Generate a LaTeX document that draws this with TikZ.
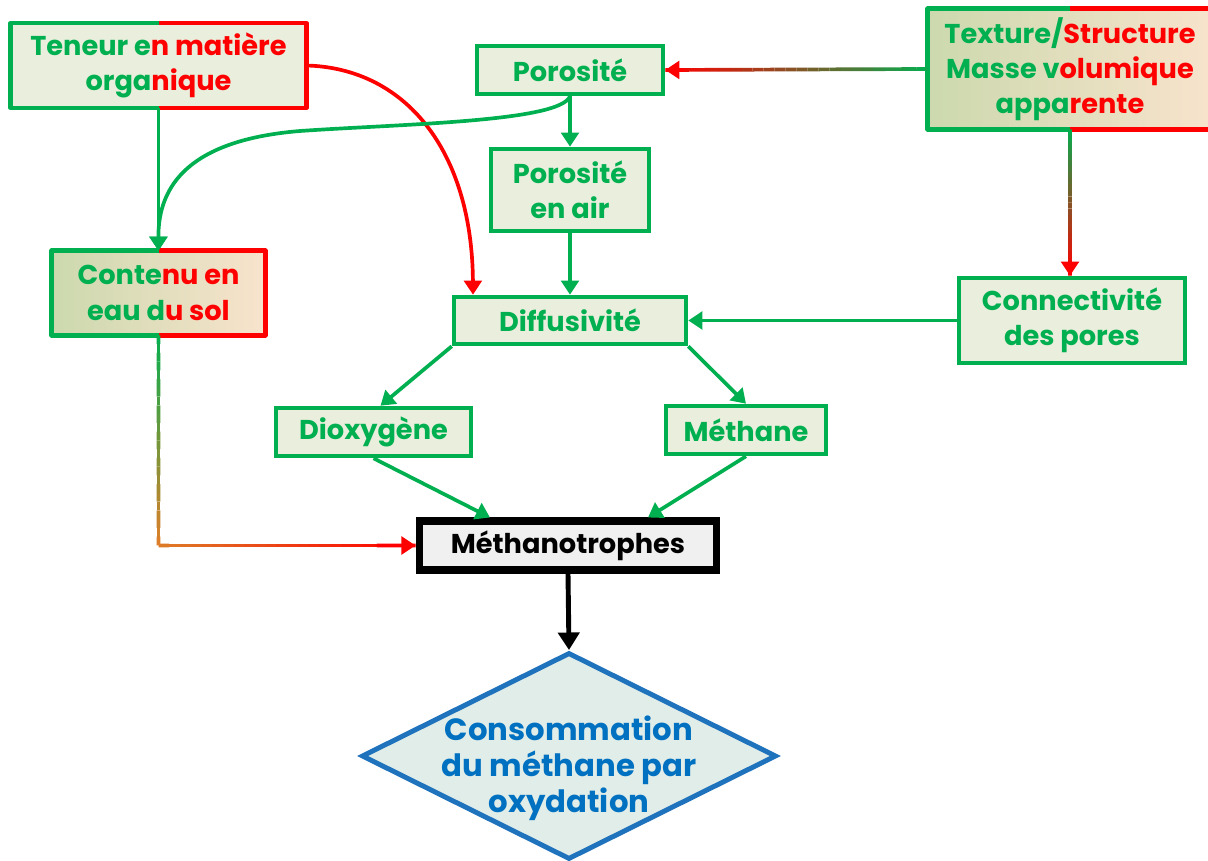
\documentclass[tikz,border=0pt]{standalone}
\usepackage{fontspec}
\setmainfont{Poppins}
\usetikzlibrary{shapes.geometric, arrows.meta, calc, shadows}
\definecolor{grn}{HTML}{00B050}
\definecolor{rd}{HTML}{FF0000}
\definecolor{org}{HTML}{DC7F28}
\definecolor{blu}{HTML}{1F73BD}
\definecolor{txtblu}{HTML}{0070C0}
\definecolor{boxfill}{HTML}{EAEEDC}
\definecolor{lgrn}{HTML}{CCD9AE}
\definecolor{ltan}{HTML}{D3C8B0}
\definecolor{lpeach}{HTML}{F8E3CC}
\definecolor{diafill}{HTML}{E1EDE9}
\tikzset{
  boxtxt/.style={align=center, font=\bfseries\fontsize{15.5}{20}\selectfont, inner sep=0pt},
  box/.style={boxtxt, draw=grn, line width=2.6pt, fill=boxfill, text=grn},
  halfbox/.style={boxtxt, left color=lgrn, middle color=ltan, right color=lpeach},
  halfline/.style={line width=2.6pt, line join=round},
  arr/.style={line width=2.1pt, -{Triangle[length=8pt, width=10pt]}},
  seg/.style={line width=2.1pt}
}

\begin{document}
\begin{tikzpicture}[x=0.02cm, y=-0.02cm]
\useasboundingbox (0,0) rectangle (1208,861);

\node[boxtxt, fill=boxfill, minimum width=5.9cm, minimum height=1.68cm] (teneur) at (158.5,65.5)
  {\textcolor{grn}{Teneur e}\textcolor{rd}{n matière}\\\textcolor{grn}{orga}\textcolor{rd}{nique}};
\node[box, minimum width=3.72cm, minimum height=0.96cm] (poro) at (570,70) {Porosité};
\node[halfbox, minimum width=5.68cm, minimum height=2.4cm] (texture) at (1070,69)
  {\textcolor{grn}{Texture/}\textcolor{rd}{Structure}\\\textcolor{grn}{Masse v}\textcolor{rd}{olumique}\\\textcolor{grn}{appa}\textcolor{rd}{rente}};
\node[box, minimum width=3.16cm, minimum height=1.64cm] (poroair) at (570,190) {Porosité\\en air};
\node[halfbox, minimum width=4.26cm, minimum height=1.68cm] (contenu) at (158.5,293)
  {\textcolor{grn}{Conte}\textcolor{rd}{nu en}\\\textcolor{grn}{eau d}\textcolor{rd}{u sol}};
\node[box, minimum width=4.64cm, minimum height=0.94cm] (diffu) at (570,320.5) {Diffusivité};
\node[box, minimum width=4.52cm, minimum height=1.7cm] (connect) at (1072,320.5) {Connectivité\\des pores};
\node[box, minimum width=3.9cm, minimum height=0.96cm] (dioxy) at (373.5,432) {Dioxygène};
\node[box, minimum width=3.2cm, minimum height=0.96cm] (methane) at (746,430) {Méthane};
\node[boxtxt, draw=black, line width=4pt, fill=black!6, minimum width=5.96cm, minimum height=0.98cm,
  drop shadow={shadow xshift=2pt, shadow yshift=-2pt, opacity=0.35}] (metho) at (568,545.5) {Méthanotrophes};
\node[diamond, draw=blu, line width=2.8pt, fill=diafill, minimum width=8.3cm, minimum height=4.14cm, inner sep=0pt] (conso) at (569,756) {};
\node[align=center, text=txtblu, font=\bfseries\fontsize{17.5}{20.5}\selectfont] (consotxt) at (569,768)
  {Consommation\\du méthane par\\oxydation};

% bicolour borders
\draw[halfline, grn] (teneur.north) -- (teneur.north west) -- (teneur.south west) -- (teneur.south);
\draw[halfline, rd] (teneur.north) -- (teneur.north east) -- (teneur.south east) -- (teneur.south);
\draw[halfline, grn] (texture.north) -- (texture.north west) -- (texture.south west) -- (texture.south);
\draw[halfline, rd] (texture.north) -- (texture.north east) -- (texture.south east) -- (texture.south);
\draw[halfline, grn] (contenu.north) -- (contenu.north west) -- (contenu.south west) -- (contenu.south);
\draw[halfline, rd] (contenu.north) -- (contenu.north east) -- (contenu.south east) -- (contenu.south);

% plain arrows
\draw[arr, grn] (teneur.south) -- (contenu.north);
\draw[arr, rd] (teneur.east) .. controls (405,68) and (472,150) .. ($(diffu.north west)!0.09!(diffu.north east)$);
\draw[arr, grn] (poro.south) -- (poroair.north);
\draw[arr, grn] (poro.south) .. controls (560,122) and (400,124) .. (300,131) .. controls (190,140) and (158,185) .. (contenu.north);
\draw[arr, grn] (poroair.south) -- (diffu.north);
\draw[arr, grn] (connect.west) -- (diffu.east);
\draw[arr, grn] (diffu.south west) -- ($(dioxy.north)+(7,0)$);
\draw[arr, grn] (diffu.south east) -- (methane.north);
\draw[arr, grn] (dioxy.south) -- ($(metho.north)+(-78,0)$);
\draw[arr, grn] (methane.south) -- ($(metho.north)+(80,0)$);
\draw[line width=2.8pt, -{Triangle[length=10pt, width=12pt]}] (metho.south) -- (conso.north);

% shaded arrows
\coordinate (texbot) at (texture.south);
\coordinate (contop) at (texture.south |- connect.north);
\coordinate (corner) at (contenu.south |- metho.west);
\foreach \i in {1,...,24}{
  \pgfmathtruncatemacro\p{100*\i/24}
  \draw[seg, rd!\p!grn] ($(texture.west)!{(\i-1)/24}!(poro.east)$) -- ($(texture.west)!{\i/24}!(poro.east)$);
  \draw[seg, rd!\p!grn] ($(texbot)!{(\i-1)/24}!(contop)$) -- ($(texbot)!{\i/24}!(contop)$);
  \draw[seg, org!\p!grn] ($(contenu.south)!{(\i-1)/24}!(corner)$) -- ($(contenu.south)!{\i/24}!(corner)$);
  \draw[seg, rd!\p!org] ($(corner)!{(\i-1)/24}!(metho.west)$) -- ($(corner)!{\i/24}!(metho.west)$);
}
\draw[arr, rd] ($(texture.west)!0.93!(poro.east)$) -- (poro.east);
\draw[arr, rd] ($(texbot)!0.9!(contop)$) -- (contop);
\draw[arr, rd] ($(corner)!0.85!(metho.west)$) -- (metho.west);
\end{tikzpicture}
\end{document}
